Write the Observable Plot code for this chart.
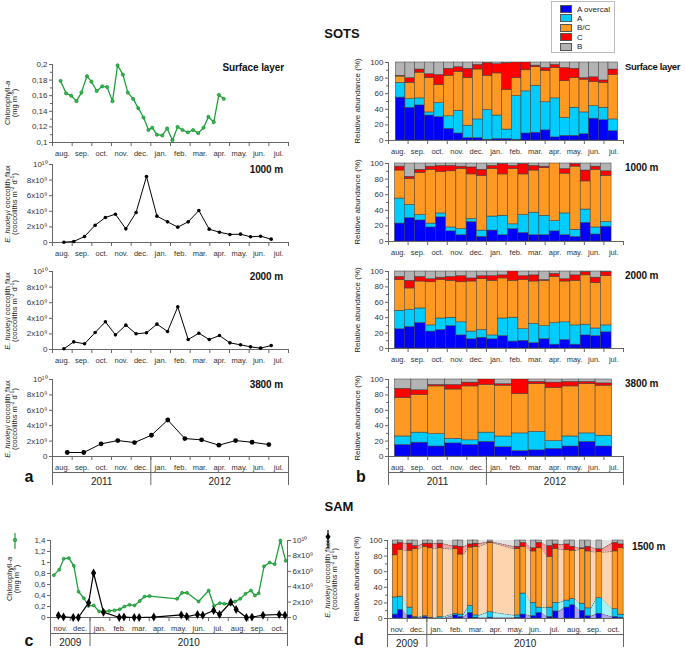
<!DOCTYPE html>
<html><head><meta charset="utf-8">
<script src="https://cdn.jsdelivr.net/npm/d3@7"></script>
<script src="https://cdn.jsdelivr.net/npm/@observablehq/plot@0.6"></script>
<style>
body{margin:0;background:#fff;font-family:"Liberation Sans",Arial,sans-serif;}
#root{position:relative;width:685px;height:649px;overflow:hidden;background:#fff;}
.t{position:absolute;white-space:nowrap;color:#111;}
sup{font-size:70%;vertical-align:3px;line-height:0;}
</style></head><body><div id="root"></div>
<script>
// ---------------- DATA ----------------
const months = ["aug.","sep.","oct.","nov.","dec.","jan.","feb.","mar.","apr.","may.","jun.","jul."];
const sotsYears = ["2011","2012"];
const samMonths = ["nov.","dec.","jan.","feb.","mar.","apr.","may.","jun.","jul.","aug.","sep.","oct."];
const samYears = ["2009","2010"];
const categories = ["A overcal","A","B/C","C","B"];
const catColors = ["#0000ff","#00ccff","#ff9922","#ff0000","#b3b3b3"];
const catLight = ["#aaa6ee","#a6f2fa","#fdd4ae","#f8a2a2","#e2e2e2"];

// SOTS surface chlorophyll-a (months since 1 Aug 2011, mg m-3)
const surfChlT = [0.41,0.69,0.95,1.22,1.47,1.75,1.98,2.25,2.53,2.78,3.05,3.31,3.58,3.83,4.10,4.36,4.63,4.88,5.07,5.31,5.58,5.83,6.10,6.36,6.61,6.88,7.15,7.41,7.68,7.93,8.20,8.46,8.71];
const surfChl  = [0.179,0.163,0.160,0.153,0.164,0.185,0.178,0.166,0.172,0.171,0.153,0.199,0.187,0.164,0.156,0.144,0.132,0.116,0.119,0.110,0.109,0.118,0.103,0.120,0.116,0.113,0.116,0.112,0.119,0.133,0.126,0.161,0.156];
const chlTicks = [0.1,0.12,0.14,0.16,0.18,0.2];
const chlMinor = [0.11,0.13,0.15,0.17,0.19];

// SOTS sediment traps (x10^9 coccoliths m-2 d-1)
const trapT    = [0.58,1.08,1.63,2.17,2.69,3.20,3.73,4.25,4.78,5.31,5.85,6.37,6.90,7.44,7.97,8.49,9.02,9.56,10.07,10.58,11.12];
const flux1000 = [0.04,0.13,0.77,2.22,3.21,3.63,1.75,3.85,8.46,3.38,2.65,1.97,2.65,4.10,1.71,1.32,1.03,1.07,0.73,0.81,0.43];
const flux2000 = [0.09,0.98,0.73,2.18,3.55,1.88,3.12,2.01,2.14,3.25,2.31,5.47,1.28,2.09,1.28,1.79,0.85,0.60,0.34,0.17,0.51];
const t3800    = [0.75,1.59,2.47,3.32,4.17,5.03,5.86,6.73,7.58,8.46,9.31,10.15,11.0];
const flux3800 = [0.52,0.52,1.64,2.07,1.81,2.76,4.74,2.33,2.16,1.47,2.07,1.85,1.55];
const fluxTicks = [0,2,4,6,8,10];

// Relative abundance (%) of morphotypes
const surfBarT = [0.62,1.11,1.60,2.10,2.59,3.09,3.58,4.07,4.57,5.06,5.56,6.05,6.54,7.04,7.53,8.03,8.52,9.01,9.51,10.00,10.50,10.99,11.48];
const surfAovercal = [55,42,45,32,30,15,9,3,3,1,2,2,1,9,10,13,4,6,6,8,28,26,12];
const surfA        = [19,11,9,4,18,16,29,16,24,38,30,12,56,54,60,36,50,23,36,28,16,16,15];
const surfBC       = [8,21,33,44,23,52,50,61,64,44,54,51,23,27,24,40,39,47,38,42,31,32,57];
const surfC        = [1,6,4,5,13,9,6,12,6,16,12,34,20,10,2,4,4,17,12,2,6,3,7];
const surfB        = [17,20,9,15,16,8,6,8,3,1,2,1,0,0,4,7,3,7,8,20,19,23,9];

const t1000Aovercal = [23,30,27,18,31,13,8,25,6,14,8,16,11,8,8,13,8,6,24,9,19];
const t1000A        = [32,17,7,5,5,5,8,4,8,18,25,6,23,29,25,13,28,9,17,9,6];
const t1000BC       = [36,33,54,69,53,72,77,57,70,61,53,71,52,54,61,74,51,81,36,74,59];
const t1000C        = [5,3,4,4,8,7,3,9,8,4,13,4,13,6,2,0,6,3,14,4,6];
const t1000B        = [4,17,8,4,3,3,4,5,8,3,1,3,1,3,4,0,7,1,9,4,10];

const t2000Aovercal = [25,28,33,22,24,29,17,12,14,12,16,9,10,7,12,5,11,5,17,16,21];
const t2000A        = [24,22,19,8,15,11,17,10,10,5,23,31,15,25,17,28,23,25,14,10,9];
const t2000BC       = [40,28,35,56,50,48,52,65,66,71,52,48,64,55,59,60,53,58,64,59,64];
const t2000C        = [4,10,6,4,3,5,8,4,4,6,4,12,5,8,1,4,3,7,4,7,5];
const t2000B        = [7,12,7,10,8,7,6,9,6,6,5,0,6,5,11,3,10,5,1,8,1];

const t3800Aovercal = [15,18,13,17,15,19,12,7,8,10,13,19,13];
const t3800A        = [11,13,16,6,6,12,14,23,24,10,13,11,14];
const t3800BC       = [50,49,62,64,70,62,66,51,62,69,65,64,65];
const t3800C        = [12,6,2,6,5,7,2,19,3,7,6,3,3];
const t3800B        = [12,14,7,7,4,0,6,0,3,4,3,3,5];

// SAM (months since 1 Nov 2009)
const samChlT = [0.17,0.44,0.67,0.93,1.18,1.42,1.69,1.92,2.19,2.46,2.72,2.97,3.24,3.51,3.74,4.00,4.25,4.52,4.76,5.01,6.41,6.66,6.91,7.50,8.01,8.28,8.57,8.80,9.07,9.34,9.61,9.87,10.15,10.35,10.54,10.81,11.10,11.35,11.64,11.91];
const samChl  = [0.77,0.87,1.07,1.08,0.94,0.47,0.35,0.21,0.22,0.11,0.11,0.12,0.13,0.15,0.20,0.23,0.22,0.30,0.38,0.39,0.34,0.45,0.45,0.29,0.49,0.21,0.26,0.25,0.25,0.29,0.34,0.43,0.49,0.40,0.44,0.93,1.00,0.97,1.40,1.03];
const samChlTicks = [0,0.2,0.4,0.6,0.8,1,1.2,1.4];
const samT    = [0.40,0.66,1.15,1.41,1.93,2.18,2.68,3.48,3.72,4.24,4.49,5.23,6.62,6.90,7.44,7.71,8.26,8.56,9.13,9.40,9.92,10.20,10.76,11.58,11.87];
const samFlux = [0.26,0.08,0,0,1.90,5.78,0.69,0,0.06,0,0,0.06,0.34,0.12,0.39,0.30,0.91,0.39,1.98,1.03,0,0.05,0.30,0.39,0.30];
const samAovercal = [5,11,4,1,2,0,0,4,2,7,1,1,1,5,3,7,2,9,14,17,10,3,6,2,1];
const samA        = [22,17,10,1,1,1,2,2,3,9,3,7,3,27,17,7,12,11,9,8,9,10,20,10,4];
const samBC       = [54,60,73,87,89,89,88,83,77,75,88,89,85,60,66,76,65,69,65,62,70,73,59,74,85];
const samC        = [14,9,9,4,4,6,6,4,10,4,4,1,3,5,4,7,14,6,7,5,1,6,4,11,5];
const samB        = [5,3,4,7,4,4,4,7,8,5,4,2,8,3,10,3,7,5,5,8,10,8,11,3,5];
const pctTicks = [0,20,40,60,80,100];
const pctMinor = [10,30,50,70,90];

// ---------------- HELPERS ----------------
const root = document.getElementById("root");
const FONT = '"Liberation Sans", Arial, sans-serif';
const AX = "#666", TXT = "#333", GREEN = "#1ea23a";
const M = {l: 48, r: 48, t: 10, b: 36};
const TITLE = "font-weight:bold;font-size:10px;letter-spacing:-0.1px;";

function panel(o) {
  const w = o.x1 - o.x0 + M.l + M.r, h = o.y1 - o.y0 + M.t + M.b;
  const svg = Plot.plot({
    width: w, height: h, marginLeft: M.l, marginRight: M.r, marginTop: M.t, marginBottom: M.b,
    x: {domain: [0, 12], label: null},
    y: {domain: o.yDomain, label: null},
    color: {domain: categories, range: catColors},
    style: {background: "transparent", overflow: "visible", fontFamily: FONT, fontSize: "8px", color: TXT},
    marks: o.marks
  });
  svg.style.position = "absolute";
  svg.style.left = (o.x0 - M.l) + "px";
  svg.style.top = (o.y0 - M.t) + "px";
  root.appendChild(svg);
}
function text(html, x, y, style) {
  const d = document.createElement("div");
  d.className = "t"; d.innerHTML = html;
  d.style.cssText += `left:${x}px;top:${y}px;` + (style || "");
  root.appendChild(d); return d;
}
function rot(html, cx, cy, fs) {
  text(html, cx, cy, `transform:translate(-50%,-50%) rotate(-90deg);font-size:${fs||7.5}px;line-height:${(fs||7.5)*0.95}px;text-align:center;color:#222;`);
}
const comma = d => String(+d.toFixed(2)).replace(".", ",");
const fluxFmt = d => d === 0 ? "0" : d === 10 ? "10\u00b9\u2070" : d + "x10\u2079";

function monthAxis(labels, yMin, years) {
  const bounds = d3.range(labels.length + 1);
  const marks = [
    Plot.ruleY([yMin], {x1: 0, x2: labels.length, stroke: AX}),
    Plot.axisX(bounds, {anchor: "bottom", tickSize: 4, tickFormat: () => "", label: null, stroke: AX}),
    Plot.text(labels, {x: (d, i) => i + 0.5, y: () => yMin, dy: 11, fontSize: 7.5, fill: TXT})
  ];
  if (years) {
    const j = labels.indexOf("jan.");
    const spans = [[0, j], [j, labels.length]];
    marks.push(
      Plot.ruleY([yMin], {x1: 0, x2: labels.length, dy: 16, stroke: AX}),
      Plot.axisX([0, j, labels.length], {anchor: "bottom", tickSize: 29, tickFormat: () => "", label: null, stroke: AX}),
      Plot.text(years, {x: (d, i) => (spans[i][0] + spans[i][1]) / 2, y: () => yMin, dy: 25, fontSize: 10, fill: "#222"})
    );
  }
  return marks;
}
function yAxis(ticks, minor, fmt, anchor) {
  const m = [
    Plot.axisY(ticks, {anchor: anchor || "left", tickSize: 3, tickPadding: 2, tickFormat: fmt, label: null, stroke: AX, fill: TXT, fontSize: 8})
  ];
  if (minor) m.push(Plot.axisY(minor, {anchor: anchor || "left", tickSize: 2, tickFormat: () => "", label: null, stroke: AX}));
  return m;
}
function stackRows(times, series, halfW) {
  const rows = [];
  times.forEach((t, i) => {
    const left = halfW ? t - halfW : (i === 0 ? t - (times[1] - times[0]) / 2 : (times[i - 1] + t) / 2);
    const right = halfW ? t + halfW : (i === times.length - 1 ? t + (t - times[i - 1]) / 2 : (t + times[i + 1]) / 2);
    let acc = 0;
    categories.forEach((c, k) => {
      const v = series[k][i];
      rows.push({t, x1: left, x2: right, cat: c, k, y1: acc, y2: acc + v});
      acc += v;
    });
  });
  return rows;
}
function barMarks(rows) {
  return [Plot.rect(rows, {x1: "x1", x2: "x2", y1: "y1", y2: "y2", fill: "cat", stroke: "#3a3a3a", strokeWidth: 0.5})];
}
function pts(times, vals) { return times.map((t, i) => ({t, v: vals[i]})); }

// ---------------- TITLES / LEGEND ----------------
text("SOTS", 342, 33, "transform:translate(-50%,-50%);font-weight:bold;font-size:13px;");
text("SAM", 339, 506, "transform:translate(-50%,-50%);font-weight:bold;font-size:13px;");
const lg = text("", 551, 1, "width:62px;height:50px;border:1px solid #bbb;background:#fff;");
categories.forEach((c, k) => {
  const row = document.createElement("div");
  row.style.cssText = `position:absolute;left:8px;top:${3 + k * 9.4}px;height:8px;display:flex;align-items:center;font-size:8px;color:#222;white-space:nowrap;`;
  row.innerHTML = `<span style="display:inline-block;width:10px;height:6px;background:${catColors[k]};border:1px solid #555;margin-right:5px"></span>${c}`;
  lg.appendChild(row);
});

// ---------------- SOTS LEFT ----------------
const L0 = 52, L1 = 288;
panel({x0: L0, x1: L1, y0: 64, y1: 142, yDomain: [0.1, 0.2], marks: [
  Plot.ruleX([0], {y1: 0.1, y2: 0.2, stroke: AX}),
  ...yAxis(chlTicks, chlMinor, comma),
  ...monthAxis(months, 0.1, null),
  Plot.line(pts(surfChlT, surfChl), {x: "t", y: "v", stroke: GREEN, strokeWidth: 1.3}),
  Plot.dot(pts(surfChlT, surfChl), {x: "t", y: "v", r: 1.6, fill: "#2cc04a", stroke: "#157a2a", strokeWidth: 0.6})
]});
rot("Chlorophyll-<i>a</i><br>(mg m<sup>-3</sup>)", 11, 103);
text("Surface layer", 284, 67, "transform:translate(-100%,-50%);" + TITLE);

const fluxPanels = [
  {y0: 164, y1: 242, t: trapT, v: flux1000, label: "1000 m", r: 1.8},
  {y0: 271, y1: 349, t: trapT, v: flux2000, label: "2000 m", r: 1.8},
  {y0: 379, y1: 456, t: t3800, v: flux3800, label: "3800 m", r: 2.4}
];
fluxPanels.forEach((p, n) => {
  panel({x0: L0, x1: L1, y0: p.y0, y1: p.y1, yDomain: [0, 10], marks: [
    Plot.ruleX([0], {y1: 0, y2: 10, stroke: AX}),
    ...yAxis(fluxTicks, null, fluxFmt),
    ...monthAxis(months, 0, n === 2 ? sotsYears : null),
    Plot.line(pts(p.t, p.v), {x: "t", y: "v", stroke: "#000", strokeWidth: 1}),
    Plot.dot(pts(p.t, p.v), {x: "t", y: "v", r: p.r, fill: "#000"})
  ]});
  rot("<i>E. huxleyi</i> coccolith flux<br>(coccoliths m<sup>-2</sup> d<sup>-1</sup>)", 11, (p.y0 + p.y1) / 2 + 1);
  text(p.label, 283, p.y0 + 5, "transform:translate(-100%,-50%);" + TITLE);
});
text("a", 29, 477, "transform:translate(-50%,-50%);font-weight:bold;font-size:16px;");

// ---------------- SOTS RIGHT ----------------
const R0 = 388, R1 = 623;
const rightPanels = [
  {y0: 62, y1: 140, t: surfBarT, s: [surfAovercal, surfA, surfBC, surfC, surfB], label: "Surface layer"},
  {y0: 163, y1: 241, t: trapT, s: [t1000Aovercal, t1000A, t1000BC, t1000C, t1000B], label: "1000 m"},
  {y0: 271, y1: 348, t: trapT, s: [t2000Aovercal, t2000A, t2000BC, t2000C, t2000B], label: "2000 m"},
  {y0: 379, y1: 456, t: t3800, s: [t3800Aovercal, t3800A, t3800BC, t3800C, t3800B], label: "3800 m"}
];
rightPanels.forEach((p, n) => {
  panel({x0: R0, x1: R1, y0: p.y0, y1: p.y1, yDomain: [0, 100], marks: [
    ...barMarks(stackRows(p.t, p.s)),
    Plot.ruleX([0], {y1: 0, y2: 100, stroke: AX}),
    ...yAxis(pctTicks, pctMinor, d => String(d)),
    ...monthAxis(months, 0, n === 3 ? sotsYears : null)
  ]});
  rot("Relative abundance (%)", 358, (p.y0 + p.y1) / 2, 8);
  const st = n === 0 ? "font-weight:bold;font-size:9.5px;letter-spacing:-0.35px;" : TITLE;
  text(p.label, 625, p.y0 + 4, "transform:translate(0,-50%);" + st);
});
text("b", 361, 477, "transform:translate(-50%,-50%);font-weight:bold;font-size:16px;");

// ---------------- SAM LEFT ----------------
const F = 1.4 / 10; // flux (x10^9) -> chlorophyll axis units
panel({x0: 50, x1: 287, y0: 540, y1: 617, yDomain: [0, 1.4], marks: [
  Plot.ruleX([0], {y1: 0, y2: 1.4, stroke: AX}),
  Plot.ruleX([12], {y1: 0, y2: 1.4, stroke: AX}),
  ...yAxis(samChlTicks, null, comma),
  Plot.axisY(fluxTicks.map(d => d * F), {anchor: "right", tickSize: 3, tickPadding: 2, tickFormat: d => fluxFmt(Math.round(d / F)), label: null, stroke: AX, fill: TXT, fontSize: 8}),
  ...monthAxis(samMonths, 0, samYears),
  Plot.line(pts(samChlT, samChl), {x: "t", y: "v", stroke: GREEN, strokeWidth: 1.3}),
  Plot.dot(pts(samChlT, samChl), {x: "t", y: "v", r: 1.5, fill: "#2cc04a", stroke: "#157a2a", strokeWidth: 0.6}),
  Plot.line(pts(samT, samFlux), {x: "t", y: d => d.v * F, stroke: "#000", strokeWidth: 1.2}),
  Plot.dot(pts(samT, samFlux), {x: "t", y: d => d.v * F, symbol: "diamond", r: 2.7, fill: "#000"})
]});
rot("Chlorophyll-<i>a</i><br>(mg m<sup>-3</sup>)", 13, 579);
rot("<i>E. huxleyi</i> coccolith flux<br>(coccoliths m<sup>-2</sup> d<sup>-1</sup>)", 331, 579);
text('<svg width="8" height="16"><line x1="4" y1="0" x2="4" y2="16" stroke="#1ea23a" stroke-width="1.2"/><circle cx="4" cy="7" r="1.8" fill="#2cc04a" stroke="#157a2a" stroke-width="0.6"/></svg>', 11, 533);
text('<svg width="10" height="18"><line x1="5" y1="0" x2="5" y2="18" stroke="#000" stroke-width="1.2"/><path d="M5 3 L7.5 6.8 L5 10.6 L2.5 6.8 Z" fill="#000"/></svg>', 323, 530);
text("c", 29, 641, "transform:translate(-50%,-50%);font-weight:bold;font-size:16px;");

// ---------------- SAM RIGHT ----------------
const samRows = stackRows(samT, [samAovercal, samA, samBC, samC, samB], 0.135);
const areaMarks = [];
categories.forEach((c, k) => {
  const edge = samRows.filter(r => r.k === k).flatMap(r => [{x: r.x1, y1: r.y1, y2: r.y2}, {x: r.x2, y1: r.y1, y2: r.y2}]);
  areaMarks.push(Plot.areaY(edge, {x: "x", y1: "y1", y2: "y2", fill: catLight[k]}));
  if (k < 4) areaMarks.push(Plot.line(edge, {x: "x", y: "y2", stroke: "#444", strokeWidth: 0.7, strokeDasharray: "1,1.5"}));
});
panel({x0: 387, x1: 623, y0: 540, y1: 618, yDomain: [0, 100], marks: [
  ...areaMarks,
  ...barMarks(samRows),
  Plot.ruleX([0], {y1: 0, y2: 100, stroke: AX}),
  ...yAxis(pctTicks, pctMinor, d => String(d)),
  ...monthAxis(samMonths, 0, samYears)
]});
rot("Relative abundance (%)", 357, 579, 8);
text("1500 m", 632, 546, "transform:translate(0,-50%);" + TITLE);
text("d", 359, 640, "transform:translate(-50%,-50%);font-weight:bold;font-size:16px;");
</script></body></html>
